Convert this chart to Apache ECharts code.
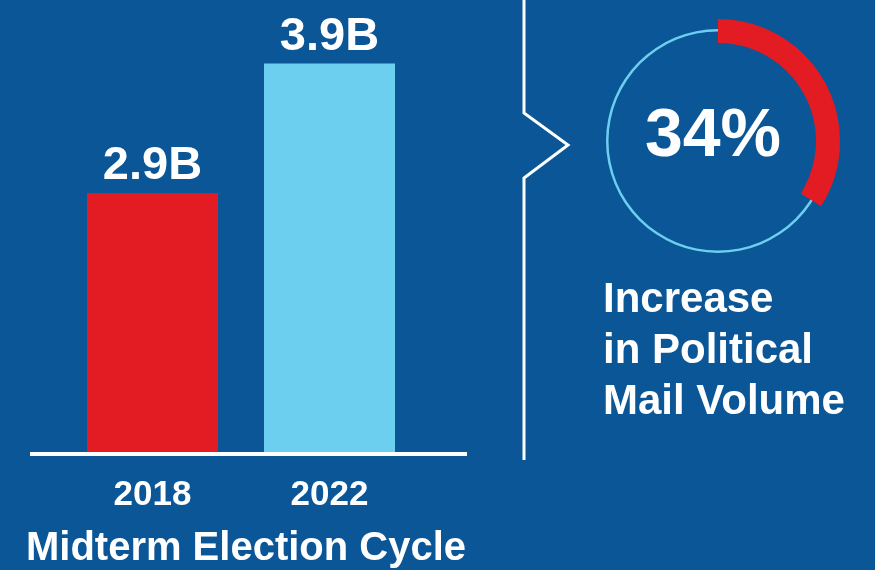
<!DOCTYPE html>
<html>
<head>
<meta charset="utf-8">
<script src="https://cdn.jsdelivr.net/npm/echarts@6/dist/echarts.min.js"></script>
<style>
html,body{margin:0;padding:0;background:#0a5697;}
#c{width:875px;height:570px;}
</style>
</head>
<body>
<div id="c"></div>
<script>
const categories = ['2018', '2022'];
const mailVolume = [2.9, 3.9];
const volumeLabels = ['2.9B', '3.9B'];
const barColors = ['#e31b23', '#6dcff0'];
const increasePct = 34;
const axisTitle = 'Midterm Election Cycle';
const sideText = 'Increase\nin Political\nMail Volume';

const FONT = '"Liberation Sans", Arial, Helvetica, sans-serif';
const chart = echarts.init(document.getElementById('c'), null, {renderer: 'canvas'});

chart.setOption({
  backgroundColor: '#0a5697',
  animation: false,
  grid: {left: 64, width: 354, top: 50.5, height: 401.5},
  xAxis: {
    type: 'category',
    data: categories,
    axisLine: {show: false},
    axisTick: {show: false},
    axisLabel: {color: '#ffffff', fontSize: 35, fontWeight: 'bold', fontFamily: FONT, margin: 26}
  },
  yAxis: {
    type: 'value', min: 0.9, max: 4.0,
    show: false
  },
  series: [
    {
      type: 'bar',
      barWidth: 131,
      data: mailVolume.map((v, i) => ({value: v, itemStyle: {color: barColors[i]}})),
      label: {
        show: true, position: 'top', distance: 3,
        color: '#ffffff', fontSize: 47, fontWeight: 'bold', fontFamily: FONT,
        formatter: p => volumeLabels[p.dataIndex]
      }
    },
    {
      type: 'pie',
      center: [718, 141],
      radius: [109.5, 112],
      silent: true,
      label: {show: false},
      data: [{value: 100, itemStyle: {color: '#6dcff0'}}]
    },
    {
      type: 'pie',
      center: [718, 141],
      radius: [98, 122],
      startAngle: 90,
      clockwise: true,
      silent: true,
      label: {show: false},
      data: [
        {value: increasePct, itemStyle: {color: '#e31b23'}},
        {value: 100 - increasePct, itemStyle: {color: 'rgba(0,0,0,0)'}}
      ]
    }
  ],
  graphic: [
    {
      type: 'line',
      shape: {x1: 30, y1: 454, x2: 467, y2: 454},
      style: {stroke: '#ffffff', lineWidth: 4}
    },
    {
      type: 'polyline',
      shape: {points: [[524, 0], [524, 113], [568, 145], [524, 178], [524, 460]]},
      style: {stroke: '#ffffff', lineWidth: 3, fill: null}
    },
    {
      type: 'text',
      x: 713, y: 137,
      style: {
        text: increasePct + '%', fill: '#ffffff', fontSize: 68, fontWeight: 'bold',
        fontFamily: FONT, align: 'center', verticalAlign: 'middle'
      }
    },
    {
      type: 'text',
      x: 603, y: 275,
      style: {
        text: sideText, fill: '#ffffff', fontSize: 42, fontWeight: 'bold',
        fontFamily: FONT, lineHeight: 51, align: 'left', verticalAlign: 'top'
      }
    },
    {
      type: 'text',
      x: 246, y: 529,
      style: {
        text: axisTitle, fill: '#ffffff', fontSize: 40, fontWeight: 'bold',
        fontFamily: FONT, align: 'center', verticalAlign: 'top'
      }
    }
  ]
});
</script>
</body>
</html>
